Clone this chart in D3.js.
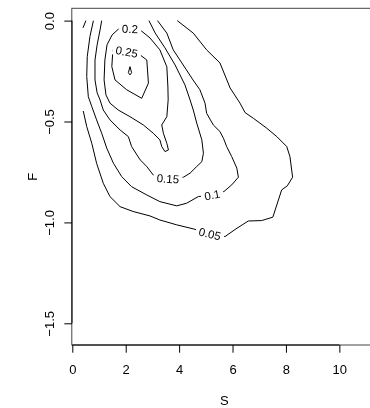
<!DOCTYPE html>
<html>
<head>
<meta charset="utf-8">
<script src="https://cdn.jsdelivr.net/npm/d3@7"></script>
<style>
  body { margin: 0; background: #fff; }
  svg { will-change: transform; }
  text { font-family: "Liberation Sans", Arial, Helvetica, sans-serif; }
</style>
</head>
<body>
<svg id="chart" width="370" height="408"></svg>
<script>
// Axis ticks
const xTicks = [0, 2, 4, 6, 8, 10];
const yTicks = [0, -0.5, -1, -1.5];
const yTickLabels = ["0.0", "\u22120.5", "\u22121.0", "\u22121.5"];

// Density contour lines, as [S, F] vertices
const c05corner = [[0.40, -0.036], [0.51, 0]];
const c05 = [[0.41, -0.448], [0.54, -0.525], [0.73, -0.608], [0.91, -0.707], [1.16, -0.806],
  [1.41, -0.872], [1.79, -0.922], [2.28, -0.946], [2.91, -0.968], [3.28, -0.988], [3.91, -1.012],
  [4.53, -1.032], [5.15, -1.057], [5.72, -1.070], [6.13, -1.032], [6.59, -0.993], [7.09, -0.991],
  [7.51, -0.974], [7.84, -0.839], [8.05, -0.819], [8.25, -0.776], [8.15, -0.674], [8.03, -0.624],
  [7.66, -0.575], [7.28, -0.533], [6.78, -0.484], [6.47, -0.456], [6.28, -0.409], [5.91, -0.334],
  [5.53, -0.210], [5.03, -0.145], [4.53, -0.062], [3.93, 0]];
const c10 = [[0.79, 0], [0.66, -0.079], [0.56, -0.178], [0.54, -0.277], [0.60, -0.377], [0.73, -0.426],
  [0.91, -0.492], [1.10, -0.558], [1.29, -0.632], [1.54, -0.707], [1.85, -0.773], [2.22, -0.823],
  [2.79, -0.864], [3.28, -0.897], [3.91, -0.918], [4.28, -0.905], [4.72, -0.872], [5.24, -0.864],
  [5.68, -0.847], [5.97, -0.814], [6.22, -0.776], [6.16, -0.731], [5.97, -0.674], [5.78, -0.624],
  [5.66, -0.583], [5.53, -0.550], [5.28, -0.517], [5.03, -0.459], [4.97, -0.409], [4.78, -0.343],
  [4.52, -0.294], [4.03, -0.195], [3.78, -0.145], [3.54, -0.062], [3.19, 0]];
const c15 = [[1.10, 0], [1.04, -0.046], [0.93, -0.120], [0.85, -0.195], [0.85, -0.294], [0.93, -0.358],
  [1.04, -0.393], [1.16, -0.443], [1.41, -0.492], [1.79, -0.542], [2.10, -0.575], [2.22, -0.624],
  [2.54, -0.690], [2.79, -0.723], [3.03, -0.765], [3.58, -0.783], [4.16, -0.776], [4.41, -0.756],
  [4.66, -0.723], [4.85, -0.699], [4.91, -0.657], [4.85, -0.591], [4.66, -0.508], [4.53, -0.443],
  [4.41, -0.393], [4.22, -0.319], [3.85, -0.220], [3.47, -0.135], [3.10, -0.061], [2.87, 0]];
const c20 = [[2.16, -0.041], [2.54, -0.046], [2.91, -0.086], [3.28, -0.145], [3.54, -0.229],
  [3.58, -0.329], [3.59, -0.393], [3.54, -0.476], [3.35, -0.517], [3.41, -0.558], [3.54, -0.608],
  [3.60, -0.641], [3.47, -0.649], [3.35, -0.624], [3.28, -0.591], [3.03, -0.558], [2.66, -0.517],
  [2.16, -0.476], [1.72, -0.443], [1.41, -0.409], [1.26, -0.368], [1.19, -0.294], [1.22, -0.195],
  [1.30, -0.120], [1.49, -0.071], [1.72, -0.043]];
const c25 = [[2.04, -0.154], [2.54, -0.170], [2.79, -0.195], [2.85, -0.310], [2.60, -0.385],
  [2.04, -0.343], [1.60, -0.294], [1.48, -0.228], [1.52, -0.145]];
const c30 = [[2.16, -0.228], [2.22, -0.258], [2.16, -0.269], [2.10, -0.258]];

// Contour labels: text and the vertex they sit on
const labelText = ["0.05", "0.1", "0.15", "0.2", "0.25"];
const labelS = [5.15, 5.24, 3.58, 2.16, 2.04];
const labelF = [-1.057, -0.864, -0.783, -0.041, -0.154];

const contours = [
  { pts: c05corner, closed: false },
  { pts: c05, closed: false, label: 0 },
  { pts: c10, closed: false, label: 1 },
  { pts: c15, closed: false, label: 2 },
  { pts: c20, closed: true, label: 3 },
  { pts: c25, closed: true, label: 4 },
  { pts: c30, closed: true }
];

const svg = d3.select("#chart");
const W = 370, H = 408;
const FONT = '"Liberation Sans", Arial, Helvetica, sans-serif';

const x = d3.scaleLinear().domain([0, 11.41]).range([72.3, 377]);
const y = d3.scaleLinear().domain([-1.6075, 0.061]).range([345, 8.3]);

// Plot frame
svg.append("rect")
  .attr("x", 71.8).attr("y", 8.3)
  .attr("width", 377 - 71.8).attr("height", 345 - 8.3)
  .attr("fill", "none").attr("stroke", "#444").attr("stroke-width", 1);

// Label geometry, used both for text and for gaps in the lines
const labelFont = 11.5;
const labelInfo = labelText.map((t, i) => {
  const c = contours.find(d => d.label === i);
  const pts = c.pts;
  const k = pts.findIndex(p => p[0] === labelS[i] && p[1] === labelF[i]);
  const n = pts.length;
  const a = pts[(k - 1 + n) % n], b = pts[(k + 1) % n];
  let ang = Math.atan2(y(b[1]) - y(a[1]), x(b[0]) - x(a[0])) * 180 / Math.PI;
  if (ang > 90) ang -= 180;
  if (ang < -90) ang += 180;
  return { text: t, cx: x(labelS[i]), cy: y(labelF[i]), ang };
});

// Measure label widths
const measure = svg.append("text").attr("font-size", labelFont).attr("font-family", FONT);
labelInfo.forEach(d => { measure.text(d.text); d.w = measure.node().getComputedTextLength(); });
measure.remove();

const defs = svg.append("defs");
const mask = defs.append("mask").attr("id", "labelGaps")
  .attr("maskUnits", "userSpaceOnUse").attr("x", 0).attr("y", 0).attr("width", W).attr("height", H);
mask.append("rect").attr("x", 0).attr("y", 0).attr("width", W).attr("height", H).attr("fill", "#fff");
mask.selectAll("rect.gap").data(labelInfo).join("rect")
  .attr("class", "gap")
  .attr("x", d => -d.w / 2 - 3.3).attr("y", -labelFont * 0.45)
  .attr("width", d => d.w + 6.6).attr("height", labelFont * 0.9)
  .attr("transform", d => `translate(${d.cx},${d.cy}) rotate(${d.ang})`)
  .attr("fill", "#000");

const lineOpen = d3.line().x(d => x(d[0])).y(d => y(d[1]));
const lineClosed = d3.line().x(d => x(d[0])).y(d => y(d[1])).curve(d3.curveLinearClosed);

svg.append("g").attr("mask", "url(#labelGaps)")
  .selectAll("path").data(contours).join("path")
  .attr("d", d => (d.closed ? lineClosed : lineOpen)(d.pts))
  .attr("fill", "none").attr("stroke", "#000").attr("stroke-width", 1)
  .attr("stroke-linejoin", "round");

svg.append("g").selectAll("text").data(labelInfo).join("text")
  .attr("transform", d => `translate(${d.cx},${d.cy}) rotate(${d.ang})`)
  .attr("text-anchor", "middle").attr("dy", "0.36em")
  .attr("font-size", labelFont).attr("font-family", FONT).attr("fill", "#000")
  .text(d => d.text);

// Axes
const xAxis = d3.axisBottom(x).tickValues(xTicks).tickSize(7.7).tickPadding(12).tickFormat(d3.format("d"));
const gx = svg.append("g").attr("transform", "translate(0,345)").call(xAxis);
gx.select(".domain").remove();
gx.attr("font-size", 13).attr("font-family", FONT);
gx.selectAll("line").attr("stroke", "#000");
gx.selectAll("text").attr("fill", "#000");
gx.append("line").attr("x1", x(xTicks[0])).attr("x2", x(xTicks[xTicks.length - 1]))
  .attr("y1", 0).attr("y2", 0).attr("stroke", "#000");

const yAxis = d3.axisLeft(y).tickValues(yTicks).tickSize(7.7).tickFormat((d, i) => yTickLabels[i]);
const gy = svg.append("g").attr("transform", "translate(72,0)").call(yAxis);
gy.select(".domain").remove();
gy.attr("font-size", 13).attr("font-family", FONT);
gy.selectAll("line").attr("stroke", "#000");
gy.selectAll(".tick text")
  .attr("x", null).attr("dy", null).attr("fill", "#000")
  .attr("text-anchor", "middle")
  .attr("transform", "translate(-17.6,0) rotate(-90)");
gy.append("line").attr("x1", 0).attr("x2", 0)
  .attr("y1", y(yTicks[0])).attr("y2", y(yTicks[yTicks.length - 1])).attr("stroke", "#000");

// Axis titles
svg.append("text").attr("x", 224.3).attr("y", 404.7).attr("text-anchor", "middle")
  .attr("font-size", 13).attr("font-family", FONT).text("S");
svg.append("text").attr("transform", "translate(36.7,176.7) rotate(-90)").attr("text-anchor", "middle")
  .attr("font-size", 13).attr("font-family", FONT).text("F");
</script>
</body>
</html>
